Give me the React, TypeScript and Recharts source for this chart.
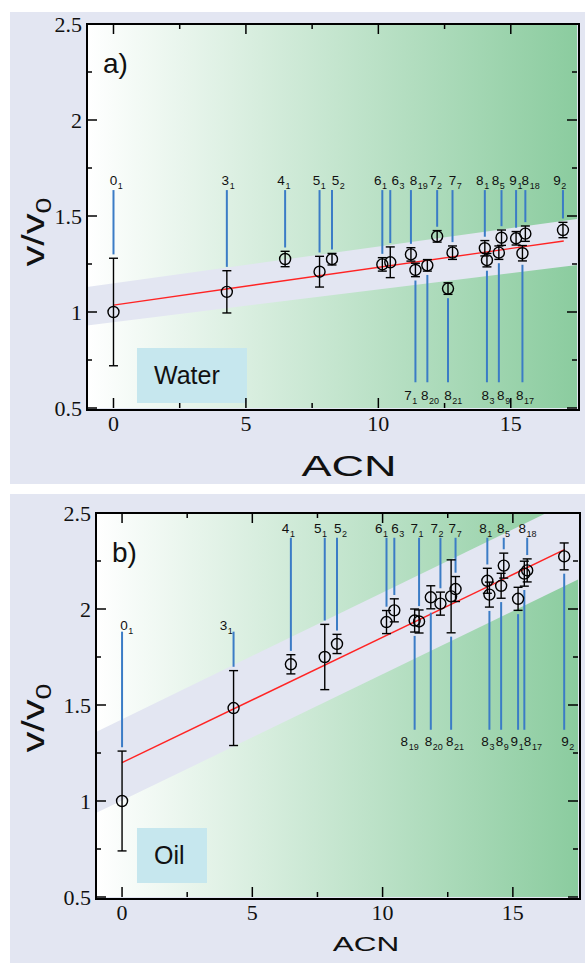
import React from "react";
import { ComposedChart, XAxis, YAxis, Area, Line, Scatter, ErrorBar, ReferenceLine } from "recharts";

// knots, named "crossings_index"
const knots = ["0_1", "3_1", "4_1", "5_1", "5_2", "6_1", "6_3", "7_1", "7_2", "7_7", "8_1", "8_3", "8_5", "8_9", "8_17", "8_18", "8_19", "8_20", "8_21", "9_1", "9_2"];
const acn = [0, 4.28, 6.48, 7.78, 8.25, 10.15, 10.45, 11.4, 12.22, 12.8, 14.02, 14.1, 14.65, 14.55, 15.44, 15.55, 11.23, 11.85, 12.63, 15.2, 16.97];

const waterV = [1.0, 1.105, 1.276, 1.21, 1.275, 1.248, 1.259, 1.219, 1.394, 1.309, 1.332, 1.27, 1.387, 1.309, 1.306, 1.408, 1.3, 1.243, 1.122, 1.384, 1.427];
const waterErr = [0.28, 0.11, 0.04, 0.08, 0.03, 0.035, 0.08, 0.035, 0.03, 0.035, 0.04, 0.035, 0.04, 0.035, 0.04, 0.04, 0.035, 0.03, 0.03, 0.035, 0.04];
const oilV = [1.0, 1.484, 1.712, 1.75, 1.818, 1.932, 1.993, 1.935, 2.028, 2.104, 2.147, 2.075, 2.226, 2.121, 2.184, 2.201, 1.94, 2.061, 2.066, 2.053, 2.274];
const oilErr = [0.26, 0.195, 0.05, 0.17, 0.05, 0.06, 0.06, 0.06, 0.06, 0.065, 0.065, 0.065, 0.065, 0.065, 0.065, 0.06, 0.06, 0.06, 0.19, 0.06, 0.07];

// linear fits and shaded bands
const fitX = [0, 17];
const waterFit = [1.036, 1.37];
const oilFit = [1.2, 2.31];
const bandX = [-1, 17.5];
const waterBandLow = [0.93, 1.245];
const waterBandHigh = [1.13, 1.485];
const oilBandLow = [0.937, 2.153];
const oilBandHigh = [1.36, 2.58];

// which knots get their label under the data
const waterBelow = ["7_1", "8_20", "8_21", "8_3", "8_9", "8_17"];
const oilBelow = ["8_19", "8_20", "8_21", "8_3", "8_9", "9_1", "8_17", "9_2"];
const oilMid = ["0_1", "3_1"];

const xTicks = [0, 2.5, 5, 7.5, 10, 12.5, 15];
const yTicks = [0.5, 0.75, 1, 1.25, 1.5, 1.75, 2, 2.25, 2.5];

// horizontal nudges (px) of the knot labels so they don't collide
const waterLabelDx: Record<string, number> = {
  "3_1": -1.5, "4_1": -4, "5_1": -3, "5_2": 3.5, "6_1": -4.5, "6_3": 5, "8_19": 2.5, "7_2": -4.5,
  "8_1": -5, "8_5": -6, "9_1": -3, "9_2": -6,
  "7_1": -7.5, "8_20": -2.7, "8_3": -1.7, "8_9": 2, "8_17": -2.7,
};
const oilLabelDx: Record<string, number> = {
  "0_1": 2, "3_1": -10, "4_1": -5.3, "5_1": -7, "5_2": 0.7, "6_1": -7.7, "6_3": 0.7, "7_1": -4.8, "7_2": -6.3,
  "7_7": -3.2, "8_1": -4.3, "8_5": -3, "8_18": -5,
  "8_19": -10.3, "8_20": -2.3, "8_21": -1.3, "8_3": -4.3, "8_9": -1.7, "9_1": -3.7, "8_17": 3.3, "9_2": 0.7,
};

const LAV = "#e3e6f2";
const SANS = "'Liberation Sans', Arial, sans-serif";
const SERIF = "'Liberation Serif', 'DejaVu Serif', 'Times New Roman', serif";
const GAP = 0.02;
const Y_W = 60;
const X_H = 30;

type Level = { text: number; line: number; below: boolean };

const waterLevels: Record<string, Level> = {
  above: { text: 1.69, line: 1.635, below: false },
  below: { text: 0.568, line: 0.634, below: true },
};
const oilLevels: Record<string, Level> = {
  above: { text: 2.423, line: 2.371, below: false },
  mid: { text: 1.918, line: 1.882, below: false },
  below: { text: 1.31, line: 1.371, below: true },
};

const Ring = (p: any) => <circle cx={p.cx} cy={p.cy} r={5.5} fill="none" stroke="#000" strokeWidth={1.4} />;

const makeKnotLabel = (dxMap: Record<string, number>) => (p: any) => {
  const name: string = (p.payload && p.payload.name) || p.name;
  const [n, s] = name.split("_");
  const cx = p.cx + (dxMap[name] || 0);
  return (
    <g>
      <text x={cx} y={p.cy + 5} textAnchor="middle" style={{ fontFamily: SANS, fontSize: 13.5 }} fill="#111">{n}</text>
      <text x={cx + 4.3} y={p.cy + 9} style={{ fontFamily: SANS, fontSize: 9 }} fill="#111">{s}</text>
    </g>
  );
};

const makeXTick = (plotH: number) => (p: any) => {
  const v = p.payload.value;
  const len = v % 5 === 0 ? 10 : 5;
  return (
    <g>
      <line x1={p.x} x2={p.x} y1={p.y} y2={p.y - len} stroke="#000" strokeWidth={1.5} />
      <line x1={p.x} x2={p.x} y1={p.y - plotH} y2={p.y - plotH + len} stroke="#000" strokeWidth={1.5} />
      {v % 5 === 0 && (
        <text x={p.x} y={p.y + 23} textAnchor="middle" style={{ fontFamily: SERIF, fontSize: 22 }} fill="#111">{v}</text>
      )}
    </g>
  );
};

const makeYTick = (plotW: number) => (p: any) => {
  const v = p.payload.value;
  const major = Math.abs(v * 2 - Math.round(v * 2)) < 1e-6;
  const len = major ? 10 : 5;
  return (
    <g>
      <line x1={p.x} x2={p.x + len} y1={p.y} y2={p.y} stroke="#000" strokeWidth={1.5} />
      <line x1={p.x + plotW} x2={p.x + plotW - len} y1={p.y} y2={p.y} stroke="#000" strokeWidth={1.5} />
      {major && (
        <text x={p.x - 5} y={p.y + 8} textAnchor="end" style={{ fontFamily: SERIF, fontSize: 22 }} fill="#111">{String(v)}</text>
      )}
    </g>
  );
};

type Geom = { left: number; top: number; w: number; h: number; pl: number; pt: number; pw: number; ph: number };

function Panel(props: {
  geom: Geom; letter: string; medium: string; box: { x: number; y: number; w: number };
  values: number[]; errs: number[]; fit: number[]; bandLow: number[]; bandHigh: number[];
  levels: Record<string, Level>; levelOf: (k: string) => string; labelDx: Record<string, number>;
  acnPos: { x: number; y: number; size: number }; yLabelY: number;
}) {
  const { geom: g, values, errs, levels, levelOf } = props;
  const points = knots.map((k, i) => ({ x: acn[i], y: values[i], err: errs[i] }));
  const labels = knots.map((k, i) => ({ x: acn[i], y: levels[levelOf(k)].text, name: k }));
  const band = bandX.map((x, i) => ({ x, band: [props.bandLow[i], props.bandHigh[i]] }));
  const fitRows = fitX.map((x, i) => ({ x, y: props.fit[i] }));
  const margin = {
    top: g.pt,
    left: g.pl - Y_W,
    right: g.w - g.pl - g.pw,
    bottom: g.h - g.pt - g.ph - X_H,
  };

  return (
    <div style={{ position: "absolute", left: g.left, top: g.top, width: g.w, height: g.h, background: LAV }}>
      <div
        style={{
          position: "absolute", left: g.pl, top: g.pt, width: g.pw, height: g.ph,
          background: "linear-gradient(to right, #ffffff, #8bcc9f)",
        }}
      />
      <div
        style={{
          position: "absolute", left: props.box.x, top: props.box.y, width: props.box.w, height: 55,
          background: "#c6e7ee", boxSizing: "border-box", paddingLeft: 17,
          fontFamily: SANS, fontSize: 25, lineHeight: "55px", color: "#111",
        }}
      >
        {props.medium}
      </div>
      <div style={{ position: "absolute", left: 0, top: 0 }}>
        <ComposedChart width={g.w} height={g.h} data={band} margin={margin}>
          <XAxis
            dataKey="x" type="number" domain={[-1, 17.5]} allowDataOverflow ticks={xTicks} interval={0}
            tick={makeXTick(g.ph)} tickSize={0} tickMargin={0} axisLine={false} tickLine={false} height={X_H}
          />
          <YAxis
            type="number" domain={[0.5, 2.5]} allowDataOverflow ticks={yTicks} interval={0}
            tick={makeYTick(g.pw)} tickSize={0} tickMargin={0} axisLine={false} tickLine={false} width={Y_W}
          />
          <Area dataKey="band" type="linear" stroke="none" fill={LAV} fillOpacity={1} isAnimationActive={false} />
          <Line data={fitRows} dataKey="y" type="linear" stroke="#ff2424" strokeWidth={1.4} dot={false} activeDot={false} isAnimationActive={false} />
          {knots.map((k, i) => {
            const lv = levels[levelOf(k)];
            const end = lv.below ? values[i] - errs[i] - GAP : values[i] + errs[i] + GAP;
            return (
              <ReferenceLine
                key={k}
                segment={[{ x: acn[i], y: lv.line }, { x: acn[i], y: end }]}
                stroke="#3b7cc6" strokeWidth={2}
              />
            );
          })}
          <Scatter data={points} dataKey="y" shape={Ring} isAnimationActive={false}>
            <ErrorBar dataKey="err" direction="y" width={4.5} stroke="#000" strokeWidth={1.4} />
          </Scatter>
          <Scatter data={labels} dataKey="y" shape={makeKnotLabel(props.labelDx)} isAnimationActive={false} />
        </ComposedChart>
      </div>
      <div
        style={{
          position: "absolute", left: g.pl - 1, top: g.pt - 1, width: g.pw, height: g.ph,
          border: "2px solid #000", pointerEvents: "none",
        }}
      />
      <div style={{ position: "absolute", left: g.pl + 16, top: g.pt + 26, fontFamily: SANS, fontSize: 28, color: "#111", lineHeight: 1 }}>
        {props.letter}
      </div>
      <div
        style={{
          position: "absolute", left: props.acnPos.x, top: props.acnPos.y,
          transform: "translate(-50%, -50%) scaleX(1.5)", fontFamily: SANS, fontSize: props.acnPos.size,
          color: "#111", lineHeight: 1, whiteSpace: "nowrap",
        }}
      >
        ACN
      </div>
      <div
        style={{
          position: "absolute", left: 26, top: props.yLabelY,
          transform: "translate(-50%, -50%) rotate(-90deg) scaleX(1.3)", fontFamily: SANS, fontSize: 32,
          color: "#111", lineHeight: 1, whiteSpace: "nowrap",
        }}
      >
        v/v<sub style={{ fontSize: 22 }}>0</sub>
      </div>
    </div>
  );
}

export default function App() {
  return (
    <div style={{ position: "absolute", left: 0, top: 0, width: 585, height: 963, background: "#fff", overflow: "hidden" }}>
      <Panel
        geom={{ left: 10, top: 12, w: 575, h: 472, pl: 77, pt: 12, pw: 490, ph: 384 }}
        letter="a)" medium="Water" box={{ x: 127, y: 336, w: 110 }}
        values={waterV} errs={waterErr} fit={waterFit} bandLow={waterBandLow} bandHigh={waterBandHigh}
        levels={waterLevels} levelOf={(k) => (waterBelow.includes(k) ? "below" : "above")} labelDx={waterLabelDx}
        acnPos={{ x: 339, y: 454, size: 30 }} yLabelY={220}
      />
      <Panel
        geom={{ left: 10, top: 494, w: 575, h: 469, pl: 86, pt: 19, pw: 482, ph: 384 }}
        letter="b)" medium="Oil" box={{ x: 127, y: 334, w: 70 }}
        values={oilV} errs={oilErr} fit={oilFit} bandLow={oilBandLow} bandHigh={oilBandHigh}
        levels={oilLevels} levelOf={(k) => (oilBelow.includes(k) ? "below" : oilMid.includes(k) ? "mid" : "above")}
        labelDx={oilLabelDx}
        acnPos={{ x: 356, y: 449, size: 21 }} yLabelY={224}
      />
    </div>
  );
}
